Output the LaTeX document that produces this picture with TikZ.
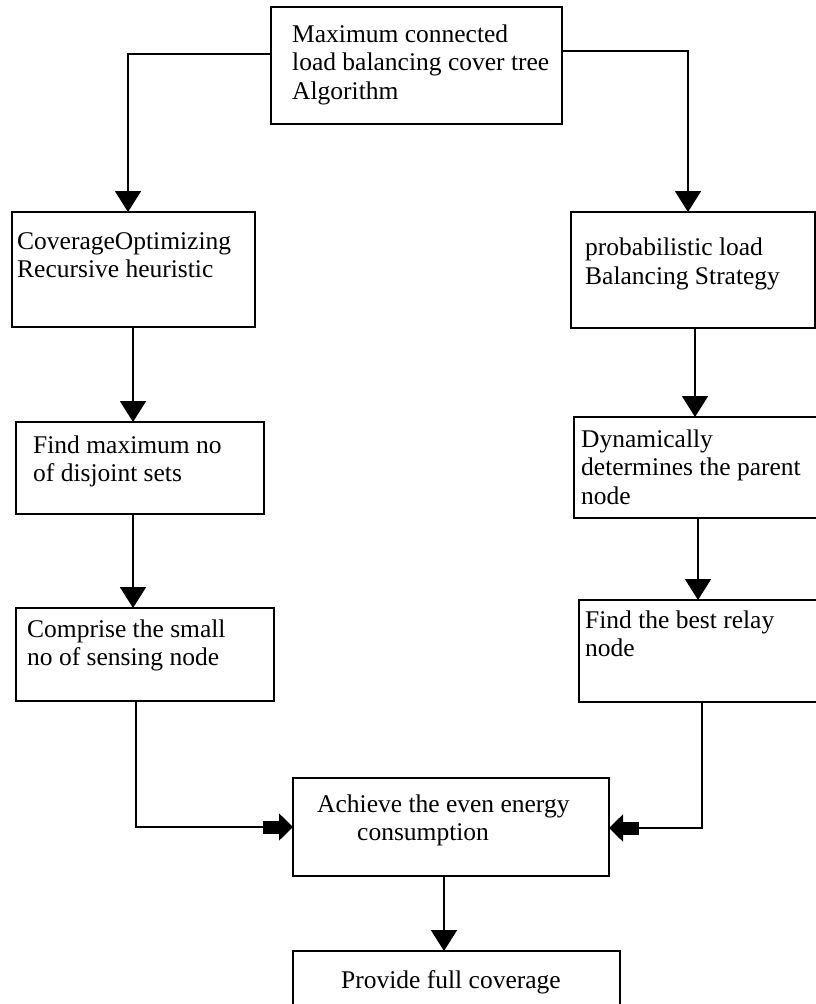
\documentclass[tikz,border=0pt]{standalone}
\usepackage{fontspec}
\setmainfont{Liberation Serif}
\usetikzlibrary{arrows.meta}
\begin{document}
\begin{tikzpicture}[x=1pt,y=-1pt,
  box/.style={draw=black,line width=1.8pt,fill=none,inner sep=0pt,outer sep=0pt},
  txt/.style={anchor=base west,inner sep=0pt,font=\fontsize{25.5}{28.5}\selectfont},
  conn/.style={draw=black,line width=1.8pt},
  arr/.style={conn,-{Triangle[length=21pt,width=26pt]}},
  fat/.style={conn,-{Rectangle[length=16pt,width=13pt,sep=0pt]Triangle[length=14pt,width=27pt]}}]
\useasboundingbox (0,0) rectangle (816,1004);
\clip (0,0) rectangle (816,1004);
\fill[white] (0,0) rectangle (816,1004);
% boxes
\node[box,minimum width=291pt,minimum height=117pt] (top) at (416.5,65.5) {};
\node[box,minimum width=243pt,minimum height=115pt] (cov) at (133.5,269.5) {};
\node[box,minimum width=244pt,minimum height=116pt] (prob) at (693,270) {};
\node[box,minimum width=248pt,minimum height=92pt] (find) at (140,468) {};
\node[box,minimum width=256pt,minimum height=101pt] (dyn) at (702,467.5) {};
\node[box,minimum width=258pt,minimum height=93pt] (comp) at (145,654.5) {};
\node[box,minimum width=251pt,minimum height=102pt] (relay) at (704.5,651) {};
\node[box,minimum width=316pt,minimum height=98pt] (ach) at (451,827) {};
\node[box,minimum width=327pt,minimum height=79pt] (prov) at (456.5,990.5) {};
% texts
\node[txt] (ttop) at (292,42) {\begin{tabular}[t]{@{}l@{}}Maximum connected\\load balancing cover tree\\Algorithm\end{tabular}};
\node[txt] (tcov) at (17,249) {\begin{tabular}[t]{@{}l@{}}CoverageOptimizing\\Recursive heuristic\end{tabular}};
\node[txt] (tprob) at (585,255.5) {\begin{tabular}[t]{@{}l@{}}probabilistic load\\Balancing Strategy\end{tabular}};
\node[txt] (tfind) at (33,453) {\begin{tabular}[t]{@{}l@{}}Find maximum no\\of disjoint sets\end{tabular}};
\node[txt] (tdyn) at (581,447) {\begin{tabular}[t]{@{}l@{}}Dynamically\\determines the parent\\node\end{tabular}};
\node[txt] (tcomp) at (27,637) {\begin{tabular}[t]{@{}l@{}}Comprise the small\\no of sensing node\end{tabular}};
\node[txt] (trelay) at (585,628) {\begin{tabular}[t]{@{}l@{}}Find the best relay\\node\end{tabular}};
\node[txt] (tach) at (317,812) {\begin{tabular}[t]{@{}l@{}}Achieve the even energy\\\hspace*{40pt}consumption\end{tabular}};
\node[txt] (tprov) at (341,988) {Provide full coverage};
% connectors
\draw[arr] ([yshift=11.5pt]top.west) -| ([xshift=-5.5pt]cov.north);
\draw[arr] ([yshift=14.5pt]top.east) -| ([xshift=-5pt]prob.north);
\draw[arr] ([xshift=-0.5pt]cov.south) -- ([xshift=-0.5pt]cov.south |- find.north);
\draw[arr] ([xshift=-7pt]find.south) -- ([xshift=-7pt]find.south |- comp.north);
\draw[arr] ([xshift=2pt]prob.south) -- ([xshift=2pt]prob.south |- dyn.north);
\draw[arr] ([xshift=-4pt]dyn.south) -- ([xshift=-4pt]dyn.south |- relay.north);
\draw[fat] ([xshift=-9pt]comp.south) |- (ach.west);
\draw[fat] ([xshift=-2.5pt]relay.south) |- ([yshift=-1pt]ach.east);
\draw[arr] ([xshift=-7pt]ach.south) -- ([xshift=-7pt]ach.south |- prov.north);
\end{tikzpicture}
\end{document}
